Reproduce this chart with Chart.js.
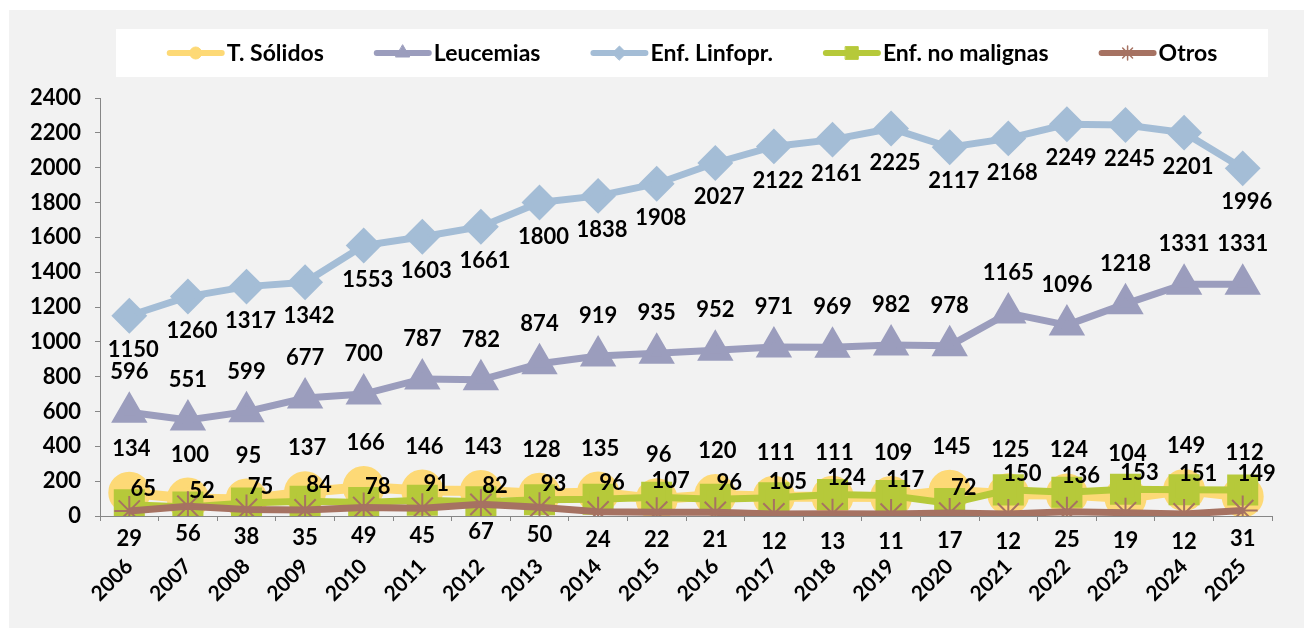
<!DOCTYPE html>
<html>
<head>
<meta charset="utf-8">
<script src="https://cdn.jsdelivr.net/npm/chart.js@4.4.1/dist/chart.umd.min.js"></script>
<style>
  html, body { margin: 0; padding: 0; background: #fff; }
  #chart { display: block; }
</style>
</head>
<body>
<canvas id="chart" width="1304" height="628"></canvas>
<script>
const years = ["2006", "2007", "2008", "2009", "2010", "2011", "2012", "2013", "2014", "2015",
  "2016", "2017", "2018", "2019", "2020", "2021", "2022", "2023", "2024", "2025"];
const solidos = [134, 100, 95, 137, 166, 146, 143, 128, 135, 96, 120, 111, 111, 109, 145, 125, 124, 104, 149, 112];
const leucemias = [596, 551, 599, 677, 700, 787, 782, 874, 919, 935, 952, 971, 969, 982, 978, 1165, 1096, 1218, 1331, 1331];
const linfopr = [1150, 1260, 1317, 1342, 1553, 1603, 1661, 1800, 1838, 1908, 2027, 2122, 2161, 2225, 2117, 2168, 2249, 2245, 2201, 1996];
const noMalignas = [65, 52, 75, 84, 78, 91, 82, 93, 96, 107, 96, 105, 124, 117, 72, 150, 136, 153, 151, 149];
const otros = [29, 56, 38, 35, 49, 45, 67, 50, 24, 22, 21, 12, 13, 11, 17, 12, 25, 19, 12, 31];

const FONT = "Lato, 'Open Sans', sans-serif";
const AXIS = "#868686";

// page frame + white legend box
const framePlugin = {
  id: "frame",
  beforeDraw(chart) {
    const ctx = chart.ctx;
    ctx.save();
    ctx.fillStyle = "#ffffff";
    ctx.fillRect(0, 0, chart.width, chart.height);
    ctx.fillStyle = "#f2f2f2";
    ctx.fillRect(9, 10, chart.width - 9, chart.height - 10);
    ctx.fillStyle = "#ffffff";
    ctx.fillRect(116, 29, 1152, 48);
    ctx.restore();
  },
  afterDraw(chart) {
    // legend: line + small marker + bold text, centred in the white box
    const ctx = chart.ctx;
    const sets = chart.data.datasets;
    const lineLen = 58, gap = 50, cy = 53;
    ctx.save();
    ctx.font = "bold 23px " + FONT;
    const widths = sets.map((d) => lineLen + 2 + ctx.measureText(d.label).width);
    const total = widths.reduce((a, b) => a + b, 0) + gap * (sets.length - 1);
    let x = 692 - total / 2;
    sets.forEach((d, i) => {
      ctx.strokeStyle = d.borderColor;
      ctx.lineWidth = 6;
      ctx.lineCap = "round";
      ctx.beginPath();
      ctx.moveTo(x + 3, cy);
      ctx.lineTo(x + lineLen - 3, cy);
      ctx.stroke();
      ctx.fillStyle = d.pointBackgroundColor;
      ctx.strokeStyle = d.pointBorderColor;
      ctx.lineWidth = d.pointStyle === "star" ? 1.5 : 1;
      if (Chart.helpers && Chart.helpers.drawPoint) {
        Chart.helpers.drawPoint(ctx, { pointStyle: d.pointStyle, radius: d.legendRadius, borderWidth: ctx.lineWidth, rotation: 0 }, x + lineLen / 2, cy);
      }
      ctx.fillStyle = "#000";
      ctx.textBaseline = "middle";
      ctx.textAlign = "left";
      ctx.fillText(d.label, x + lineLen + 2, cy + 1);
      x += widths[i] + gap;
    });
    ctx.restore();
  }
};

// value labels next to each point
const valueLabels = {
  id: "valueLabels",
  afterDatasetsDraw(chart) {
    const ctx = chart.ctx;
    ctx.save();
    ctx.font = "bold 22px " + FONT;
    ctx.fillStyle = "#000";
    ctx.textAlign = "center";
    ctx.textBaseline = "middle";
    chart.data.datasets.forEach((d, i) => {
      const meta = chart.getDatasetMeta(i);
      const off = d.labelOffset;
      meta.data.forEach((pt, j) => {
        ctx.fillText(String(d.data[j]), pt.x + off.dx, pt.y + off.dy);
      });
    });
    ctx.restore();
  }
};

const ctx = document.getElementById("chart").getContext("2d");
new Chart(ctx, {
  type: "line",
  data: {
    labels: years,
    datasets: [
      {
        label: "T. Sólidos", data: solidos, order: 5,
        borderColor: "#fdd976", backgroundColor: "#fdd976", borderWidth: 10,
        pointStyle: "circle", pointRadius: 16, pointBackgroundColor: "#fdd976", pointBorderColor: "#fdd976",
        legendRadius: 6, labelOffset: { dx: 2, dy: -44 }
      },
      {
        label: "Leucemias", data: leucemias, order: 4,
        borderColor: "#9b9dbd", backgroundColor: "#9b9dbd", borderWidth: 7,
        pointStyle: "triangle", pointRadius: 14, pointBackgroundColor: "#9b9dbd", pointBorderColor: "#9b9dbd",
        legendRadius: 8, labelOffset: { dx: 0, dy: -40 }
      },
      {
        label: "Enf. Linfopr.", data: linfopr, order: 3,
        borderColor: "#a4bdd6", backgroundColor: "#a4bdd6", borderWidth: 7,
        pointStyle: "rectRot", pointRadius: 13, pointBackgroundColor: "#a4bdd6", pointBorderColor: "#a4bdd6",
        legendRadius: 7, labelOffset: { dx: 4, dy: 34 }
      },
      {
        label: "Enf. no malignas", data: noMalignas, order: 2,
        borderColor: "#b6c93a", backgroundColor: "#b6c93a", borderWidth: 7,
        pointStyle: "rect", pointRadius: 17, pointBackgroundColor: "#b6c93a", pointBorderColor: "#b6c93a",
        legendRadius: 9, labelOffset: { dx: 14, dy: -16 }
      },
      {
        label: "Otros", data: otros, order: 1,
        borderColor: "#a67262", backgroundColor: "#a67262", borderWidth: 7,
        pointStyle: "star", pointRadius: 15, pointBorderWidth: 2, pointBackgroundColor: "#a67262", pointBorderColor: "#a67262",
        legendRadius: 7, labelOffset: { dx: 0, dy: 28 }
      }
    ]
  },
  options: {
    responsive: false,
    animation: false,
    devicePixelRatio: 1,
    layout: { padding: { top: 98, right: 32, bottom: 0, left: 0 } },
    plugins: { legend: { display: false }, tooltip: { enabled: false } },
    elements: { line: { tension: 0 }, point: { borderWidth: 1, hoverRadius: 16 } },
    scales: {
      x: {
        offset: true,
        grid: { offset: true, drawOnChartArea: false, drawTicks: true, tickLength: 5, color: AXIS },
        border: { color: AXIS, width: 1 },
        ticks: {
          autoSkip: false, minRotation: 45, maxRotation: 45, padding: 33,
          color: "#000", font: { family: FONT, size: 21, weight: "bold" }
        },
        afterFit(s) { s.height = 112; }
      },
      y: {
        min: 0, max: 2400,
        grid: { drawOnChartArea: false, drawTicks: true, tickLength: 5, color: AXIS },
        border: { color: AXIS, width: 1 },
        ticks: {
          stepSize: 200, padding: 14, color: "#000", font: { family: FONT, size: 22, weight: "bold" },
          callback: (v) => String(v)
        },
        afterFit(s) { s.width = 100; }
      }
    }
  },
  plugins: [framePlugin, valueLabels]
});
</script>
</body>
</html>
